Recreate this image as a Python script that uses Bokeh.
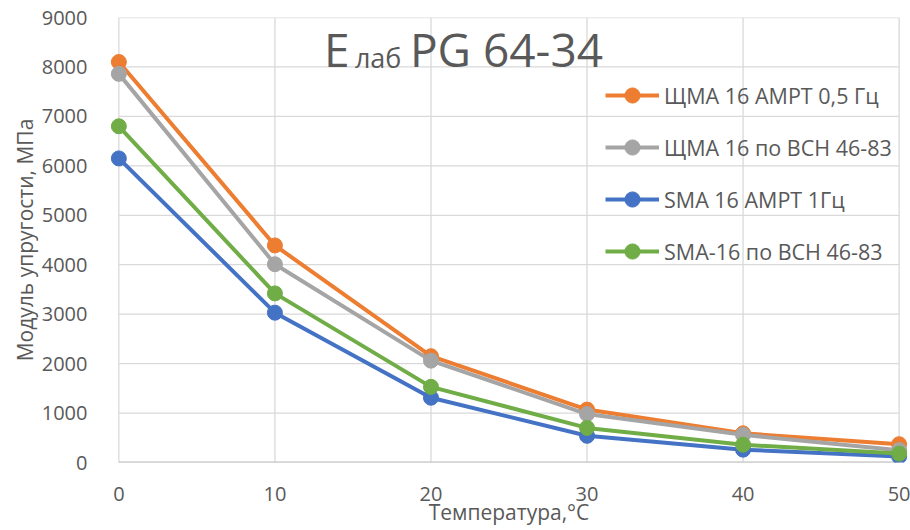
from bokeh.plotting import figure
from bokeh.models import Range1d, Label, FixedTicker, Legend, LegendItem
from bokeh.embed import file_html
from bokeh.resources import INLINE

temps = [0, 10, 20, 30, 40, 50]
x_ticks = [0, 10, 20, 30, 40, 50]
y_ticks = [0, 1000, 2000, 3000, 4000, 5000, 6000, 7000, 8000, 9000]

shma_ampt = [8100, 4390, 2150, 1070, 590, 370]
shma_vsn = [7860, 4010, 2060, 980, 560, 250]
sma_ampt = [6150, 3030, 1310, 540, 260, 120]
sma_vsn = [6800, 3420, 1530, 700, 360, 180]

series = [
    ("ЩМА 16 АМРТ 0,5 Гц", shma_ampt, "#ED7D31"),
    ("ЩМА 16 по ВСН 46-83", shma_vsn, "#A5A5A5"),
    ("SMA 16 АМРТ 1Гц", sma_ampt, "#4472C4"),
    ("SMA-16 по ВСН 46-83", sma_vsn, "#70AD47"),
]

FONT = "Open Sans"
TXT = "#595959"

p = figure(width=910, height=530, x_range=Range1d(-0.6, 50.6), y_range=Range1d(0, 9000),
           output_backend="svg", toolbar_location=None,
           min_border_left=109, min_border_right=2, min_border_top=17, min_border_bottom=68)
p.outline_line_color = None
p.xgrid.visible = False
p.ygrid.visible = False

# gridlines
p.segment(x0=[x_ticks[0]] * len(y_ticks), x1=[x_ticks[-1]] * len(y_ticks), y0=y_ticks, y1=y_ticks,
          line_color="#d9d9d9", line_width=1.3)
p.segment(x0=x_ticks, x1=x_ticks, y0=[y_ticks[0]] * len(x_ticks), y1=[y_ticks[-1]] * len(x_ticks),
          line_color="#d9d9d9", line_width=1.3)
p.segment(x0=[x_ticks[0]], x1=[x_ticks[-1]], y0=[y_ticks[0]], y1=[y_ticks[0]],
          line_color="#bfbfbf", line_width=1.8)

items = []
for name, vals, col in series:
    l = p.line(temps, vals, line_color=col, line_width=4)
    s = p.scatter(temps, vals, size=15, fill_color=col, line_color=col)
    items.append(LegendItem(label=name, renderers=[l, s]))

for ax in (p.xaxis[0], p.yaxis[0]):
    ax.axis_line_color = None
    ax.major_tick_line_color = None
    ax.minor_tick_line_color = None
    ax.major_tick_out = 0
    ax.major_tick_in = 0
    ax.minor_tick_out = 0
    ax.major_label_text_font = FONT
    ax.major_label_text_font_size = "20px"
    ax.major_label_text_color = TXT
    ax.axis_label_text_font = FONT
    ax.axis_label_text_font_size = "21px"
    ax.axis_label_text_color = TXT
    ax.axis_label_text_font_style = "normal"
p.xaxis[0].ticker = FixedTicker(ticks=x_ticks)
p.yaxis[0].ticker = FixedTicker(ticks=y_ticks)
p.xaxis[0].major_label_standoff = 24
p.yaxis[0].major_label_standoff = 22
p.xaxis[0].axis_label = "Температура,°С"
p.yaxis[0].axis_label = "Модуль упругости, МПа"
p.xaxis[0].axis_label_standoff = -6
p.yaxis[0].axis_label_standoff = 0

legend = Legend(items=items, location=(496, 192), orientation="vertical",
                glyph_width=54, glyph_height=38, label_standoff=5, spacing=14,
                padding=0, margin=0, border_line_alpha=0, background_fill_alpha=0,
                label_text_font=FONT, label_text_font_size="21.5px", label_text_color=TXT,
                label_height=38)
p.add_layout(legend, "center")

# chart title
p.add_layout(Label(x=13.14, y=8985, text="E", text_baseline="top",
                   text_font=FONT, text_font_size="46px", text_color=TXT))
p.add_layout(Label(x=13.14, y=8574, text="лаб", x_offset=31, text_baseline="top",
                   text_font=FONT, text_font_size="27px", text_color=TXT))
p.add_layout(Label(x=13.14, y=8985, text="PG 64-34", x_offset=86, text_baseline="top",
                   text_font=FONT, text_font_size="46px", text_color=TXT))

open("out.html", "w").write(file_html(p, INLINE))
